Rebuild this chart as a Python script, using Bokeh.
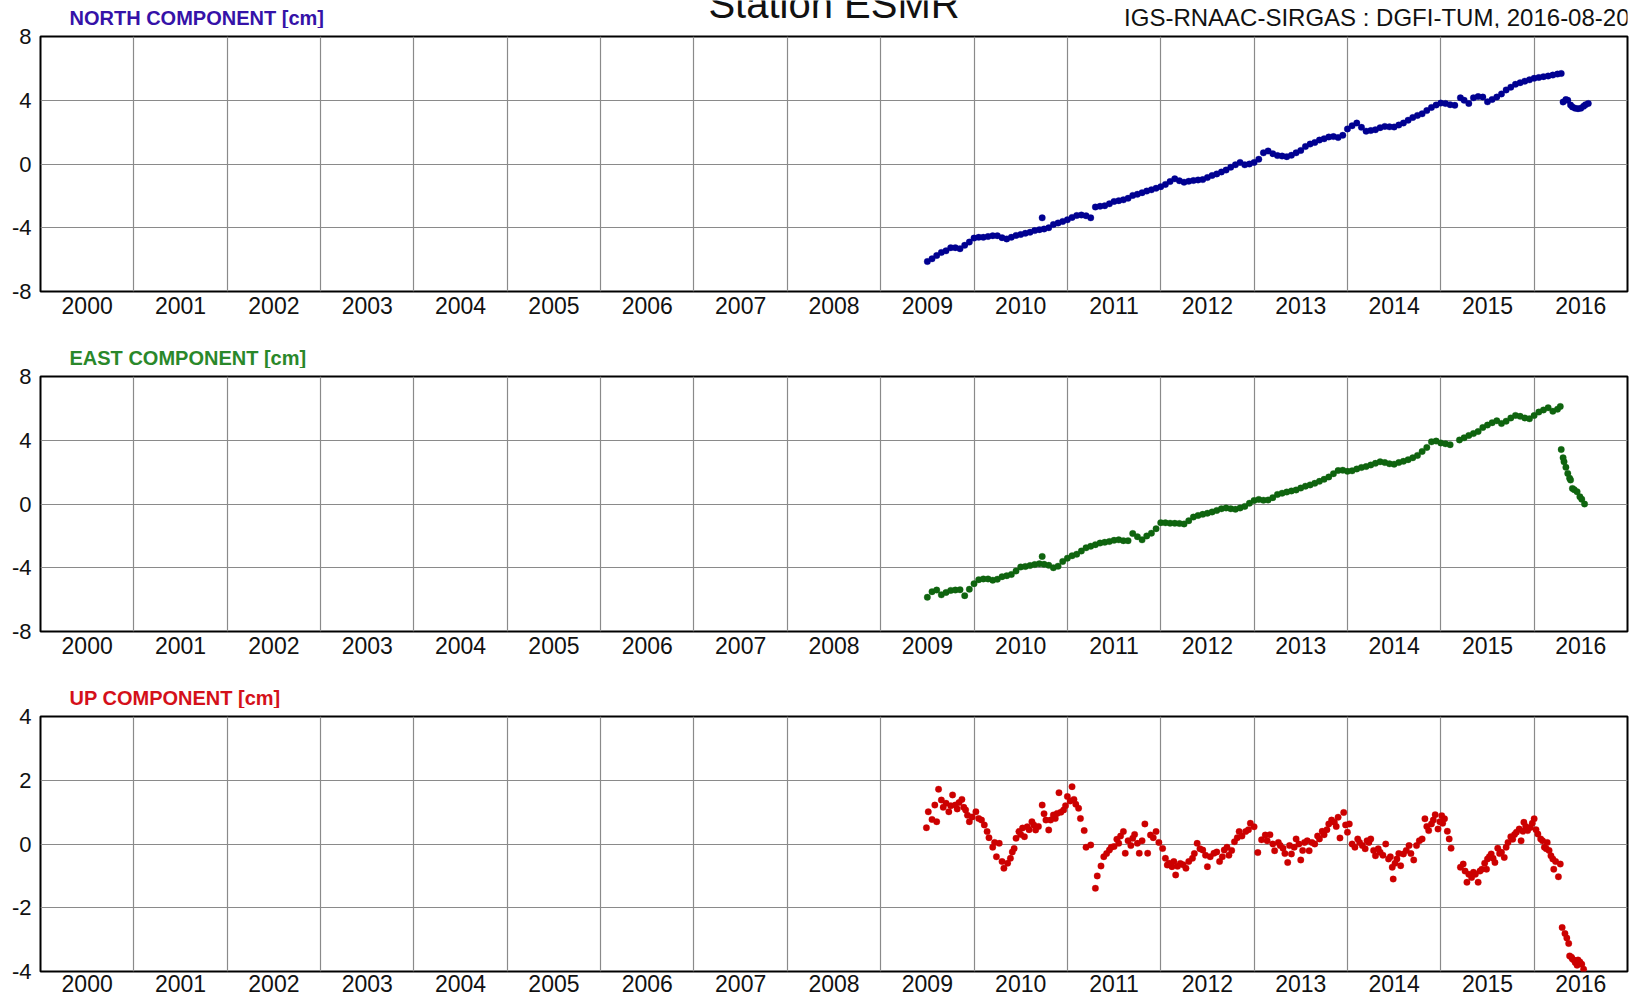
from bokeh.plotting import figure
from bokeh.models import FixedTicker, Range1d
from bokeh.layouts import column
from bokeh.core.properties import value
from bokeh.embed import file_html
from bokeh.resources import INLINE

# ---------------- data (decimal years, cm) ----------------
year_labels = [2000, 2001, 2002, 2003, 2004, 2005, 2006, 2007, 2008,
               2009, 2010, 2011, 2012, 2013, 2014, 2015, 2016]
year_bounds = [2001, 2002, 2003, 2004, 2005, 2006, 2007, 2008,
               2009, 2010, 2011, 2012, 2013, 2014, 2015, 2016]
ne_ticks = [-8, -4, 0, 4, 8]
up_ticks = [-4, -2, 0, 2, 4]

north_t = [2009.50, 2009.55, 2009.60, 2009.65, 2009.70, 2009.75, 2009.80, 2009.85, 2009.90, 2009.95,
           2010.00, 2010.05, 2010.10, 2010.15, 2010.20, 2010.25, 2010.30, 2010.35, 2010.40, 2010.45,
           2010.50, 2010.55, 2010.60, 2010.65, 2010.70, 2010.73, 2010.75, 2010.80, 2010.85, 2010.90, 2010.95,
           2011.00, 2011.05, 2011.10, 2011.15, 2011.20, 2011.25, 2011.30, 2011.35, 2011.40, 2011.45,
           2011.50, 2011.55, 2011.60, 2011.65, 2011.70, 2011.75, 2011.80, 2011.85, 2011.90, 2011.95,
           2012.00, 2012.05, 2012.10, 2012.15, 2012.20, 2012.25, 2012.30, 2012.35, 2012.40, 2012.45,
           2012.50, 2012.55, 2012.60, 2012.65, 2012.70, 2012.75, 2012.80, 2012.85, 2012.90, 2012.95,
           2013.00, 2013.05, 2013.10, 2013.15, 2013.20, 2013.25, 2013.30, 2013.35, 2013.40, 2013.45,
           2013.50, 2013.55, 2013.60, 2013.65, 2013.70, 2013.75, 2013.80, 2013.85, 2013.90, 2013.95,
           2014.00, 2014.05, 2014.10, 2014.15, 2014.20, 2014.25, 2014.30, 2014.35, 2014.40, 2014.45,
           2014.50, 2014.55, 2014.60, 2014.65, 2014.70, 2014.75, 2014.80, 2014.85, 2014.90, 2014.95,
           2015.00, 2015.05, 2015.10, 2015.15, 2015.21, 2015.25, 2015.30, 2015.35, 2015.40, 2015.45,
           2015.50, 2015.55, 2015.60, 2015.65, 2015.70, 2015.75, 2015.80, 2015.85, 2015.90, 2015.95,
           2016.00, 2016.05, 2016.10, 2016.15, 2016.20, 2016.25, 2016.29,
           2016.31, 2016.34, 2016.36, 2016.39, 2016.41, 2016.44, 2016.47, 2016.50, 2016.53, 2016.55, 2016.58]
north_v = [-6.12, -5.95, -5.74, -5.55, -5.45, -5.25, -5.25, -5.32, -5.10, -4.90,
           -4.65, -4.60, -4.60, -4.55, -4.50, -4.50, -4.62, -4.70, -4.60, -4.48,
           -4.42, -4.35, -4.28, -4.18, -4.12, -3.38, -4.08, -4.00, -3.80, -3.70, -3.60,
           -3.50, -3.35, -3.23, -3.20, -3.25, -3.38, -2.70, -2.65, -2.62, -2.50,
           -2.35, -2.30, -2.25, -2.15, -1.97, -1.90, -1.80, -1.70, -1.62, -1.52,
           -1.42, -1.28, -1.10, -0.93, -1.05, -1.14, -1.08, -1.04, -1.00, -0.98,
           -0.85, -0.72, -0.62, -0.50, -0.38, -0.20, -0.05, 0.10, -0.05, 0.00,
           0.10, 0.30, 0.70, 0.82, 0.65, 0.53, 0.50, 0.46, 0.55, 0.70,
           0.85, 1.10, 1.25, 1.35, 1.50, 1.58, 1.70, 1.72, 1.66, 1.80,
           2.20, 2.40, 2.57, 2.30, 2.06, 2.10, 2.15, 2.28, 2.36, 2.33,
           2.32, 2.45, 2.57, 2.75, 2.92, 3.05, 3.15, 3.35, 3.55, 3.70,
           3.82, 3.80, 3.72, 3.68, 4.15, 4.00, 3.80, 4.15, 4.23, 4.20,
           3.90, 4.05, 4.20, 4.40, 4.65, 4.82, 5.00, 5.10, 5.20, 5.28,
           5.38, 5.43, 5.48, 5.52, 5.58, 5.64, 5.68,
           3.89, 4.04, 4.00, 3.70, 3.58, 3.50, 3.47, 3.50, 3.62, 3.72, 3.80]

east_t = [2009.50, 2009.55, 2009.60, 2009.65, 2009.70, 2009.75, 2009.80, 2009.85, 2009.90, 2009.95,
          2010.00, 2010.05, 2010.10, 2010.15, 2010.20, 2010.25, 2010.30, 2010.35, 2010.40, 2010.45,
          2010.50, 2010.55, 2010.60, 2010.65, 2010.70, 2010.73, 2010.75, 2010.80, 2010.85, 2010.90, 2010.95,
          2011.00, 2011.05, 2011.10, 2011.15, 2011.20, 2011.25, 2011.30, 2011.35, 2011.40, 2011.45,
          2011.50, 2011.55, 2011.60, 2011.65, 2011.70, 2011.75, 2011.80, 2011.85, 2011.90, 2011.95,
          2012.00, 2012.05, 2012.10, 2012.15, 2012.20, 2012.25, 2012.30, 2012.35, 2012.40, 2012.45,
          2012.50, 2012.55, 2012.60, 2012.65, 2012.70, 2012.75, 2012.80, 2012.85, 2012.90, 2012.95,
          2013.00, 2013.05, 2013.10, 2013.15, 2013.20, 2013.25, 2013.30, 2013.35, 2013.40, 2013.45,
          2013.50, 2013.55, 2013.60, 2013.65, 2013.70, 2013.75, 2013.80, 2013.85, 2013.90, 2013.95,
          2014.00, 2014.05, 2014.10, 2014.15, 2014.20, 2014.25, 2014.30, 2014.35, 2014.40, 2014.45,
          2014.50, 2014.55, 2014.60, 2014.65, 2014.70, 2014.75, 2014.80, 2014.85, 2014.90, 2014.95,
          2015.00, 2015.05, 2015.10, 2015.20, 2015.25, 2015.30, 2015.35, 2015.40, 2015.45,
          2015.50, 2015.55, 2015.60, 2015.65, 2015.70, 2015.75, 2015.80, 2015.85, 2015.90, 2015.95,
          2016.00, 2016.05, 2016.10, 2016.15, 2016.20, 2016.25, 2016.28,
          2016.29, 2016.31, 2016.32, 2016.34, 2016.36, 2016.38, 2016.39, 2016.41, 2016.43, 2016.46,
          2016.49, 2016.51, 2016.54]
east_v = [-5.85, -5.50, -5.40, -5.70, -5.55, -5.42, -5.40, -5.38, -5.75, -5.35,
          -5.00, -4.75, -4.70, -4.70, -4.78, -4.72, -4.56, -4.50, -4.42, -4.20,
          -3.95, -3.92, -3.86, -3.80, -3.75, -3.29, -3.78, -3.85, -4.00, -3.90, -3.60,
          -3.40, -3.25, -3.15, -2.95, -2.75, -2.65, -2.55, -2.45, -2.40, -2.35,
          -2.28, -2.25, -2.30, -2.30, -1.85, -2.05, -2.25, -2.00, -1.83, -1.55,
          -1.17, -1.18, -1.20, -1.21, -1.22, -1.25, -1.05, -0.82, -0.72, -0.65,
          -0.58, -0.50, -0.40, -0.30, -0.25, -0.30, -0.33, -0.25, -0.15, 0.05,
          0.22, 0.29, 0.24, 0.25, 0.40, 0.60, 0.68, 0.75, 0.82, 0.88,
          1.00, 1.12, 1.20, 1.30, 1.42, 1.55, 1.70, 1.90, 2.10, 2.12,
          2.05, 2.08, 2.20, 2.29, 2.35, 2.45, 2.55, 2.65, 2.60, 2.52,
          2.50, 2.60, 2.68, 2.78, 2.90, 3.05, 3.30, 3.55, 3.90, 3.95,
          3.83, 3.78, 3.72, 4.02, 4.15, 4.30, 4.42, 4.55, 4.80,
          4.95, 5.10, 5.22, 5.05, 5.20, 5.40, 5.56, 5.50, 5.40, 5.35,
          5.55, 5.77, 5.90, 6.04, 5.82, 5.95, 6.12,
          3.42, 2.90, 2.65, 2.30, 1.92, 1.62, 1.50, 0.98, 0.90, 0.77,
          0.46, 0.30, 0.00]

up_t = [2009.49, 2009.51, 2009.55, 2009.58, 2009.60, 2009.62, 2009.65, 2009.70, 2009.73, 2009.77,
        2009.80, 2009.87, 2009.91, 2009.95, 2010.02, 2010.05, 2010.11, 2010.14, 2010.20, 2010.24,
        2010.27, 2010.32, 2010.36, 2010.39, 2010.43, 2010.45, 2010.48, 2010.54, 2010.57, 2010.62,
        2010.66, 2010.73, 2010.77, 2010.80, 2010.85, 2010.89, 2010.91, 2010.96, 2011.00, 2011.05,
        2011.07, 2011.12, 2011.14, 2011.18, 2011.20, 2011.25, 2011.30, 2011.32, 2011.36, 2011.39,
        2011.45, 2011.50, 2011.55, 2011.60, 2011.62, 2011.70, 2011.75, 2011.77, 2011.83, 2011.86,
        2011.89, 2011.95, 2012.02, 2012.07, 2012.12, 2012.16, 2012.21, 2012.27, 2012.34, 2012.39,
        2012.45, 2012.50, 2012.57, 2012.63, 2012.68, 2012.73, 2012.79, 2012.84, 2012.91, 2012.96,
        2013.00, 2013.04, 2013.08, 2013.12, 2013.17, 2013.22, 2013.26, 2013.31, 2013.36, 2013.40,
        2013.45, 2013.50, 2013.54, 2013.59, 2013.65, 2013.70, 2013.75, 2013.80, 2013.86, 2013.90,
        2013.92, 2013.96, 2014.00, 2014.02, 2014.05, 2014.11, 2014.16, 2014.21, 2014.25, 2014.30,
        2014.35, 2014.41, 2014.44, 2014.48, 2014.49, 2014.53, 2014.57, 2014.60, 2014.66, 2014.71,
        2014.74, 2014.80, 2014.83, 2014.87, 2014.90, 2014.94, 2014.97, 2015.01, 2015.04, 2015.07,
        2015.09, 2015.11, 2015.21, 2015.24, 2015.28, 2015.33, 2015.35, 2015.40, 2015.44, 2015.49,
        2015.50, 2015.54, 2015.58, 2015.61, 2015.65, 2015.68, 2015.72, 2015.75, 2015.81, 2015.84,
        2015.86, 2015.89, 2015.93, 2015.96, 2016.00, 2016.04, 2016.07, 2016.11, 2016.14, 2016.18,
        2016.20, 2016.21, 2016.26, 2016.28, 2016.30, 2016.33, 2016.37, 2016.38, 2016.41, 2016.44,
        2016.47, 2016.51, 2016.53,
        # further weekly points read inside the denser clusters
        2009.67, 2009.75, 2009.82, 2009.84, 2009.89, 2009.93, 2009.98, 2010.08, 2010.16, 2010.22,
        2010.30, 2010.41, 2010.50, 2010.52, 2010.59, 2010.64, 2010.69, 2010.75, 2010.82, 2010.87,
        2010.93, 2010.98, 2011.03, 2011.09, 2011.42, 2011.47, 2011.53, 2011.57, 2011.65, 2011.68,
        2011.72, 2011.80, 2011.92, 2011.98, 2012.05, 2012.09, 2012.14, 2012.18, 2012.24, 2012.30,
        2012.36, 2012.42, 2012.48, 2012.53, 2012.60, 2012.66, 2012.71, 2012.76, 2012.82, 2012.87,
        2012.94, 2013.14, 2013.20, 2013.28, 2013.33, 2013.38, 2013.43, 2013.48, 2013.52, 2013.57,
        2013.62, 2013.68, 2013.73, 2013.78, 2013.83, 2013.88, 2013.98, 2014.08, 2014.13, 2014.19,
        2014.23, 2014.28, 2014.33, 2014.38, 2014.46, 2014.51, 2014.55, 2014.63, 2014.68, 2014.77,
        2014.85, 2014.92, 2014.99, 2015.02, 2015.26, 2015.30, 2015.37, 2015.42, 2015.47, 2015.52,
        2015.56, 2015.63, 2015.70, 2015.77, 2015.79, 2015.88, 2015.91, 2015.98, 2016.02, 2016.09,
        2016.13, 2016.16, 2016.23, 2016.35, 2016.40, 2016.43, 2016.46, 2016.49]
up_v = [0.51, 1.01, 0.77, 1.22, 0.70, 1.72, 1.38, 1.28, 1.01, 1.54,
        1.22, 1.40, 1.07, 0.70, 1.01, 0.80, 0.60, 0.39, -0.10, -0.40,
        0.02, -0.76, -0.60, -0.45, -0.14, 0.18, 0.39, 0.23, 0.54, 0.70,
        0.44, 1.22, 0.75, 0.44, 0.91, 0.96, 1.61, 1.07, 1.49, 1.80,
        1.40, 1.12, 0.80, 0.42, -0.10, -0.03, -1.39, -1.00, -0.69, -0.40,
        -0.19, -0.08, 0.02, 0.39, -0.29, 0.18, 0.02, -0.29, 0.63, -0.29,
        0.28, 0.39, -0.14, -0.66, -0.71, -0.97, -0.61, -0.76, -0.45, 0.02,
        -0.19, -0.71, -0.29, -0.55, -0.19, -0.35, 0.07, 0.39, 0.39, 0.65,
        0.54, -0.27, 0.13, 0.28, 0.29, -0.21, 0.05, -0.13, -0.58, -0.31,
        0.16, -0.50, 0.05, -0.21, 0.00, 0.16, 0.29, 0.63, 0.68, 0.84,
        0.19, 0.99, 0.37, 0.63, 0.00, 0.16, -0.05, 0.10, 0.16, -0.37,
        -0.26, 0.00, -0.47, -0.73, -1.10, -0.47, -0.68, -0.31, -0.05, -0.50,
        -0.05, 0.16, 0.79, 0.42, 0.63, 0.92, 0.47, 0.89, 0.79, 0.40,
        0.16, -0.13, -0.73, -0.63, -1.20, -1.05, -0.89, -1.20, -0.79, -0.79,
        -0.47, -0.31, -0.58, -0.13, -0.26, -0.42, 0.05, 0.23, 0.37, 0.47,
        0.10, 0.68, 0.42, 0.52, 0.79, 0.31, 0.16, -0.10, 0.05, -0.37,
        -0.47, -0.79, -1.03, -0.63, -2.62, -2.81, -3.12, -3.51, -3.61, -3.72,
        -3.64, -3.77, -3.93,
        1.15, 1.20, 1.10, 1.30, 1.15, 0.90, 0.85, 0.75, 0.20, 0.05,
        -0.55, -0.25, 0.30, 0.50, 0.45, 0.60, 0.55, 0.95, 0.75, 0.80,
        1.00, 1.20, 1.35, 1.25, -0.30, -0.10, 0.15, 0.25, 0.10, -0.05,
        0.30, 0.10, 0.20, 0.05, -0.45, -0.60, -0.55, -0.70, -0.65, -0.55,
        -0.30, -0.15, -0.35, -0.40, -0.25, -0.40, -0.10, -0.20, 0.20, 0.25,
        0.45, 0.10, 0.00, -0.05, -0.30, -0.05, -0.10, 0.00, -0.20, 0.10,
        0.05, 0.25, 0.40, 0.45, 0.75, 0.55, 0.60, -0.10, 0.05, -0.15,
        0.05, -0.20, -0.15, -0.35, -0.40, -0.60, -0.30, -0.20, -0.30, 0.10,
        0.55, 0.75, 0.70, 0.65, -0.85, -0.95, -0.95, -0.85, -0.60, -0.40,
        -0.45, -0.30, -0.10, 0.15, 0.30, 0.40, 0.55, 0.65, 0.45, 0.10,
        -0.15, -0.20, -0.55, -2.95, -3.55, -3.65, -3.80, -3.70]

# ---------------- styling ----------------
FONT = "Liberation Sans"
W = 1630          # page width (file template has no body margin)
HEAD_H = 28       # strip above each panel holding its titles
FRAME_L, FRAME_R = 40, 1627   # frame edges in page pixels (column aligns frames)


def header(height, texts):
    """A borderless strip; its frame lines up with the panels' frames, so the
    x range is given in page pixels and y counts down from the strip's top."""
    h = figure(width=W, height=height, x_range=Range1d(FRAME_L, FRAME_R),
               y_range=Range1d(height, 0),
               x_axis_type=None, y_axis_type=None, output_backend="svg", toolbar_location=None,
               min_border=0, min_border_left=0, min_border_right=0, min_border_top=0,
               min_border_bottom=0)
    h.outline_line_color = None
    h.background_fill_color = "white"
    h.border_fill_color = "white"
    for (tx, ty, txt, size, style, color, align) in texts:
        h.text(x=[tx], y=[ty], text=[txt], text_font=value(FONT), text_font_size=size,
               text_font_style=style, text_color=color, text_align=align,
               text_baseline="middle")
    return h


def panel(t, v, color, ymin, ymax, yticks, height, bottom, standoff):
    p = figure(width=W, height=height,
               x_range=Range1d(2000, 2017), y_range=Range1d(ymin, ymax),
               output_backend="svg", toolbar_location=None,
               min_border_left=FRAME_L, min_border_right=W - FRAME_R, min_border_top=8,
               min_border_bottom=bottom)
    p.background_fill_color = "white"
    p.border_fill_color = "white"
    p.outline_line_color = "black"
    p.outline_line_width = 2

    p.xaxis.ticker = FixedTicker(ticks=[y + 0.5 for y in year_labels])
    p.xaxis.major_label_overrides = {y + 0.5: str(y) for y in year_labels}
    p.yaxis.ticker = FixedTicker(ticks=yticks)
    p.yaxis.major_label_overrides = {tk: str(tk) for tk in yticks}
    p.xgrid.ticker = FixedTicker(ticks=year_bounds)
    p.ygrid.ticker = FixedTicker(ticks=yticks[1:-1])
    for g in (p.xgrid, p.ygrid):
        g.grid_line_color = "#8a8a8a"
        g.grid_line_width = 1.2

    for ax in (p.xaxis, p.yaxis):
        ax.axis_line_color = None
        ax.major_tick_line_color = None
        ax.minor_tick_line_color = None
        ax.major_tick_out = 0
        ax.major_tick_in = 0
        ax.major_label_text_font = FONT
        ax.major_label_text_font_size = "23px"
        ax.major_label_text_color = "#111111"
    p.yaxis.major_label_text_font_size = "22px"
    p.yaxis.major_label_standoff = 9
    p.xaxis.major_label_standoff = standoff

    p.scatter(t, v, size=6.5, fill_color=color, line_color=color, line_width=0.3)
    return p


h1 = header(HEAD_H, [
    (69, 17.5, "NORTH COMPONENT [cm]", "20px", "bold", "#3512a8", "left"),
    (833.5, 3, "Station ESMR", "40px", "normal", "#111111", "center"),
    (1629, 16.5, "IGS-RNAAC-SIRGAS : DGFI-TUM, 2016-08-20", "24px", "normal", "#111111",
     "right"),
])
p1 = panel(north_t, north_v, "#000091", -8, 8, ne_ticks, 312, 49, 5)

h2 = header(HEAD_H, [
    (69, 17.5, "EAST COMPONENT [cm]", "20px", "bold", "#2a882a", "left"),
])
p2 = panel(east_t, east_v, "#0f640f", -8, 8, ne_ticks, 312, 49, 5)

h3 = header(HEAD_H, [
    (69, 17.5, "UP COMPONENT [cm]", "20px", "bold", "#d4101a", "left"),
])
p3 = panel(up_t, up_v, "#cc0000", -4, 4, up_ticks, 293, 30, 3)

layout = column(h1, p1, h2, p2, h3, p3, spacing=0)
open("out.html", "w").write(file_html(layout, INLINE))
